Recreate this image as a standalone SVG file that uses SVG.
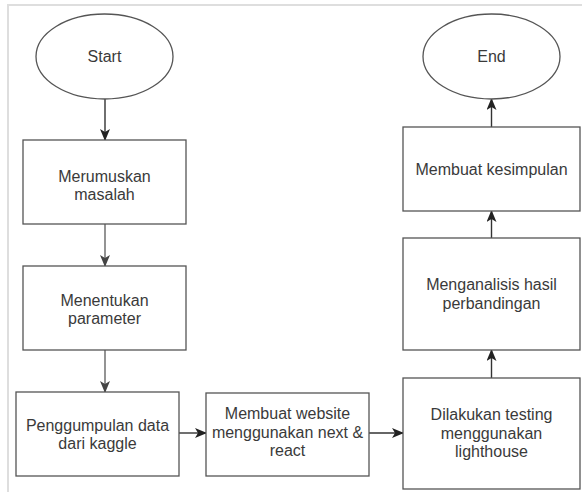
<svg xmlns="http://www.w3.org/2000/svg" width="582" height="492" viewBox="0 0 582 492">
<style>
.frame{stroke:#dedede;stroke-width:2;fill:none}
.shape{fill:#ffffff;stroke:#555555;stroke-width:1.3}
.t{font-family:"Liberation Sans",Arial,sans-serif;font-size:16px;fill:#3a3a3a;text-anchor:middle}
.c{stroke:#333333;stroke-width:1.4;fill:none;marker-end:url(#ah)}
.cg{stroke:#666666;stroke-width:1.4;fill:none;marker-end:url(#ahg)}
</style>
<defs>
<marker id="ah" markerUnits="userSpaceOnUse" markerWidth="12" markerHeight="10" viewBox="0 0 12 10" refX="11" refY="5" orient="auto">
<path d="M0,0 L12,5 L0,10 L3,5 Z" fill="#222222"/>
</marker>
<marker id="ahg" markerUnits="userSpaceOnUse" markerWidth="12" markerHeight="10" viewBox="0 0 12 10" refX="11" refY="5" orient="auto">
<path d="M0,0 L12,5 L0,10 L3,5 Z" fill="#444444"/>
</marker>
</defs>
<rect width="582" height="492" fill="#ffffff"/>
<path class="frame" d="M8,492 L8,5 L582,5"/>

<g id="connectors">
<line class="c" x1="105" y1="99" x2="105" y2="140"/>
<line class="cg" x1="105" y1="224" x2="105" y2="266"/>
<line class="cg" x1="105" y1="350" x2="105" y2="392"/>
<line class="c" x1="179" y1="433" x2="206" y2="433"/>
<line class="c" x1="369" y1="433" x2="403" y2="433"/>
<line class="c" x1="491.5" y1="378" x2="491.5" y2="350"/>
<line class="c" x1="491.5" y1="238" x2="491.5" y2="211"/>
<line class="c" x1="491.5" y1="127" x2="491.5" y2="99"/>
</g>

<g id="start">
<ellipse class="shape" cx="104.5" cy="56.5" rx="68.5" ry="42.5"/>
<text class="t" x="104.5" y="62">Start</text>
</g>

<g id="merumuskan">
<rect class="shape" x="23" y="140" width="163" height="84"/>
<text class="t"><tspan x="104.5" y="181.5">Merumuskan</tspan><tspan x="104.5" y="200">masalah</tspan></text>
</g>

<g id="menentukan">
<rect class="shape" x="23" y="266" width="163" height="84"/>
<text class="t"><tspan x="104.5" y="305.5">Menentukan</tspan><tspan x="104.5" y="324">parameter</tspan></text>
</g>

<g id="penggumpulan">
<rect class="shape" x="16" y="392" width="163" height="84"/>
<text class="t"><tspan x="97.5" y="430.5">Penggumpulan data</tspan><tspan x="97.5" y="449">dari kaggle</tspan></text>
</g>

<g id="membuat-website">
<rect class="shape" x="206" y="393" width="163" height="83"/>
<text class="t"><tspan x="287.5" y="419">Membuat website</tspan><tspan x="287.5" y="437.5">menggunakan next &amp;</tspan><tspan x="287.5" y="456">react</tspan></text>
</g>

<g id="testing">
<rect class="shape" x="403" y="378" width="177" height="111"/>
<text class="t"><tspan x="491.5" y="420">Dilakukan testing</tspan><tspan x="491.5" y="438.5">menggunakan</tspan><tspan x="491.5" y="457">lighthouse</tspan></text>
</g>

<g id="menganalisis">
<rect class="shape" x="403" y="238" width="177" height="112"/>
<text class="t"><tspan x="491.5" y="290">Menganalisis hasil</tspan><tspan x="491.5" y="308.5">perbandingan</tspan></text>
</g>

<g id="kesimpulan">
<rect class="shape" x="403" y="127" width="177" height="84"/>
<text class="t" x="491.5" y="175">Membuat kesimpulan</text>
</g>

<g id="end">
<ellipse class="shape" cx="491.5" cy="56.5" rx="68.5" ry="42.5"/>
<text class="t" x="491.5" y="62">End</text>
</g>
</svg>
